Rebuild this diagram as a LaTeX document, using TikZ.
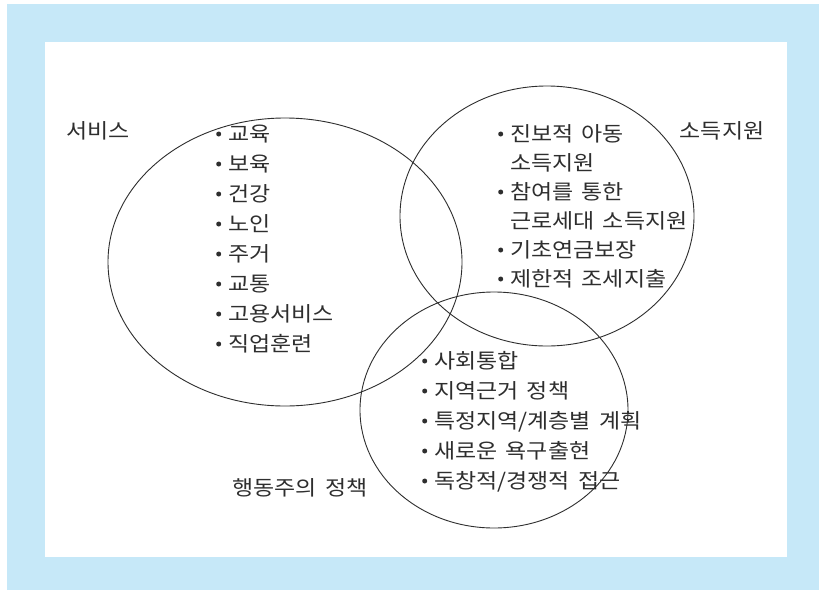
\documentclass[tikz,border=0pt]{standalone}
\usepackage{fontspec}
\setmainfont[FakeStretch=1.12,WordSpace=1.6]{Noto Sans CJK KR}
\usetikzlibrary{shapes.geometric}
\definecolor{frameblue}{HTML}{C6E8F8}
\definecolor{ink}{HTML}{2E2E2E}
\tikzset{
  venn/.style={draw=ink, line width=0.9pt, ellipse, inner sep=0pt},
  item/.style={anchor=base west, inner sep=0pt, text=ink, font=\fontsize{20.5}{24}\selectfont},
  lbl/.style={anchor=base, inner sep=0pt, text=ink, font=\fontsize{20.5}{24}\selectfont}
}
\newcommand{\bul}{\llap{\tikz[baseline=-7pt]\fill[ink] (0,0) circle[radius=2.5pt];\hspace{7pt}}}
\begin{document}
\begin{tikzpicture}[x=1pt,y=-1pt]
\useasboundingbox (0,0) rectangle (819,590);
\fill[white] (0,0) rectangle (819,590);
\fill[frameblue] (7,4) rectangle (819,590);
\fill[white] (45,42) rectangle (787,557);
% circles
\node[venn, minimum width=354pt, minimum height=288pt] (svc) at (285,262) {};
\node[venn, minimum width=294pt, minimum height=260pt] (inc) at (547,216) {};
\node[venn, minimum width=268pt, minimum height=236pt] (act) at (494,410) {};
% labels
\node[lbl] (lsvc) at (98,138) {서비스};
\node[lbl] (linc) at (722,138) {소득지원};
\node[lbl] (lact) at (300,495) {행동주의 정책};
% services list
\node[item] (s1) at (228,141) {\bul 교육};
\node[item] (s2) at (228,171) {\bul 보육};
\node[item] (s3) at (228,201) {\bul 건강};
\node[item] (s4) at (228,231) {\bul 노인};
\node[item] (s5) at (228,261) {\bul 주거};
\node[item] (s6) at (228,291) {\bul 교통};
\node[item] (s7) at (228,321) {\bul 고용서비스};
\node[item] (s8) at (228,351) {\bul 직업훈련};
% income list
\node[item] (i1) at (510,141) {\bul 진보적 아동};
\node[item] (i2) at (510,170) {소득지원};
\node[item] (i3) at (510,199) {\bul 참여를 통한};
\node[item] (i4) at (510,228) {근로세대 소득지원};
\node[item] (i5) at (510,257) {\bul 기초연금보장};
\node[item] (i6) at (510,286) {\bul 제한적 조세지출};
% activation list
\node[item] (a1) at (434,368) {\bul 사회통합};
\node[item] (a2) at (434,398) {\bul 지역근거 정책};
\node[item] (a3) at (434,428) {\bul 특정지역/계층별 계획};
\node[item] (a4) at (434,458) {\bul 새로운 욕구출현};
\node[item] (a5) at (434,488) {\bul 독창적/경쟁적 접근};
\end{tikzpicture}
\end{document}
